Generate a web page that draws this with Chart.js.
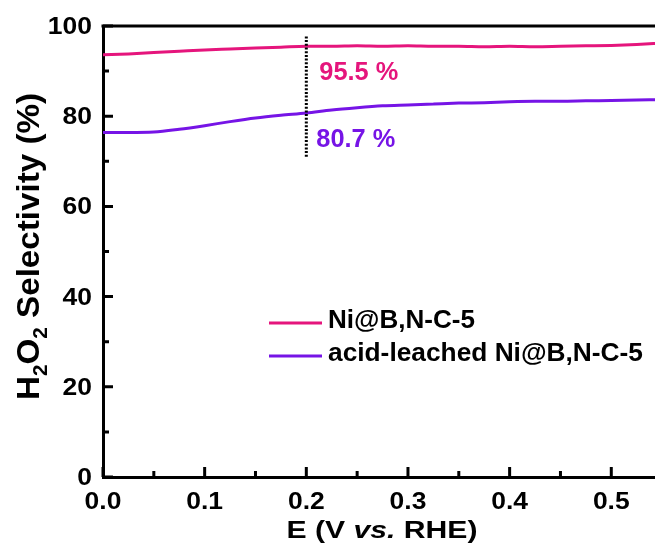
<!DOCTYPE html>
<html>
<head>
<meta charset="utf-8">
<script src="https://cdn.jsdelivr.net/npm/chart.js@4/dist/chart.umd.min.js"></script>
<style>
  html, body { margin: 0; padding: 0; background: #fff; }
  #wrap { width: 655px; height: 544px; }
</style>
</head>
<body>
<div id="wrap"><canvas id="selChart" width="655" height="544"></canvas></div>
<script>
// potential (V vs. RHE) and H2O2 selectivity (%)
const potential = [0, 0.025, 0.05, 0.075, 0.1, 0.125, 0.15, 0.175, 0.2, 0.225, 0.25, 0.275,
                   0.3, 0.325, 0.35, 0.375, 0.4, 0.425, 0.45, 0.475, 0.5, 0.525, 0.55];
const niBNC = [93.6, 93.8, 94.1, 94.4, 94.7, 94.9, 95.1, 95.3, 95.5, 95.5, 95.6, 95.5,
               95.6, 95.5, 95.5, 95.4, 95.5, 95.4, 95.5, 95.6, 95.7, 95.9, 96.2];
const acidLeached = [76.4, 76.4, 76.5, 77.1, 77.9, 78.8, 79.6, 80.2, 80.7, 81.4, 81.9, 82.3,
                     82.5, 82.7, 82.9, 83.0, 83.2, 83.3, 83.3, 83.4, 83.5, 83.6, 83.7];

const seriesNames = ['Ni@B,N-C-5', 'acid-leached Ni@B,N-C-5'];
const seriesColors = ['#e5157c', '#7614e6'];

const xTicks = [0, 0.1, 0.2, 0.3, 0.4, 0.5];
const xTickLabels = ['0.0', '0.1', '0.2', '0.3', '0.4', '0.5'];
const xMinorTicks = [0.05, 0.15, 0.25, 0.35, 0.45];
const yTicks = [0, 20, 40, 60, 80, 100];
const yTickLabels = ['0', '20', '40', '60', '80', '100'];
const yMinorTicks = [10, 30, 50, 70, 90];

// dotted guide at 0.2 V and the values read there
const markerE = 0.2;
const markerSpan = [71, 97.8];
const markerValues = [95.5, 80.7];

const FONT = "'Liberation Sans', Arial, sans-serif";

function pts(ys) {
  return potential.map((x, i) => ({ x: x, y: ys[i] }));
}

// draw a run of text pieces, optionally squeezed/stretched to a given width
function drawParts(ctx, parts, x, y, opt) {
  let natural = 0;
  parts.forEach(p => { ctx.font = p.font; p.w = ctx.measureText(p.t).width; natural += p.w; });
  const sx = opt.width ? opt.width / natural : (opt.sx || 1);
  ctx.save();
  ctx.translate(x, y);
  if (opt.rotate) ctx.rotate(opt.rotate);
  ctx.scale(sx, 1);
  let cx = 0;
  if (opt.align === 'center') cx = -natural / 2;
  else if (opt.align === 'right') cx = -natural;
  ctx.textAlign = 'left';
  ctx.textBaseline = opt.baseline || 'alphabetic';
  parts.forEach(p => {
    ctx.font = p.font;
    ctx.fillStyle = p.color || '#000';
    ctx.fillText(p.t, cx, p.dy || 0);
    cx += p.w;
  });
  ctx.restore();
}

const framePlugin = {
  id: 'frame',
  afterDraw(chart) {
    const ctx = chart.ctx;
    const xs = chart.scales.x, ys = chart.scales.y;
    const area = chart.chartArea;
    ctx.save();
    ctx.strokeStyle = '#000';
    ctx.lineWidth = 3;
    // top frame line
    ctx.beginPath();
    ctx.moveTo(area.left - 1.5, area.top);
    ctx.lineTo(area.right, area.top);
    ctx.stroke();

    // inward ticks
    ctx.beginPath();
    xTicks.forEach(v => { const px = xs.getPixelForValue(v); ctx.moveTo(px, area.bottom); ctx.lineTo(px, area.bottom - 10); });
    xMinorTicks.forEach(v => { const px = xs.getPixelForValue(v); ctx.moveTo(px, area.bottom); ctx.lineTo(px, area.bottom - 6); });
    yTicks.forEach(v => { const py = ys.getPixelForValue(v); ctx.moveTo(area.left, py); ctx.lineTo(area.left + 10, py); });
    yMinorTicks.forEach(v => { const py = ys.getPixelForValue(v); ctx.moveTo(area.left, py); ctx.lineTo(area.left + 6, py); });
    ctx.stroke();

    // tick labels
    const tickFont = 'bold 23px ' + FONT;
    xTicks.forEach((v, i) => {
      drawParts(ctx, [{ t: xTickLabels[i], font: tickFont }], xs.getPixelForValue(v), area.bottom + 32,
        { sx: 1.15, align: 'center' });
    });
    yTicks.forEach((v, i) => {
      drawParts(ctx, [{ t: yTickLabels[i], font: tickFont }], area.left - 11, ys.getPixelForValue(v) + 8,
        { sx: 1.15, align: 'right' });
    });

    // axis titles
    drawParts(ctx, [
      { t: 'E (V ', font: 'bold 24px ' + FONT },
      { t: 'vs.', font: 'italic bold 24px ' + FONT },
      { t: ' RHE)', font: 'bold 24px ' + FONT }
    ], 382, 538, { width: 191, align: 'center' });

    drawParts(ctx, [
      { t: 'H', font: 'bold 32px ' + FONT },
      { t: '2', font: 'bold 20px ' + FONT, dy: 8 },
      { t: 'O', font: 'bold 32px ' + FONT },
      { t: '2', font: 'bold 20px ' + FONT, dy: 8 },
      { t: ' Selectivity (%)', font: 'bold 32px ' + FONT }
    ], 39, 246.5, { width: 307, align: 'center', rotate: -Math.PI / 2 });

    // legend
    const legendY = [323, 356];
    const legendW = [147, 315];
    seriesNames.forEach((name, i) => {
      ctx.strokeStyle = seriesColors[i];
      ctx.lineWidth = 3;
      ctx.beginPath();
      ctx.moveTo(269, legendY[i]);
      ctx.lineTo(322, legendY[i]);
      ctx.stroke();
      drawParts(ctx, [{ t: name, font: 'bold 26px ' + FONT }], 328, legendY[i] + 5,
        { width: legendW[i], align: 'left' });
    });

    // value labels at the guide line
    const mx = xs.getPixelForValue(markerE);
    const offs = [13, 10];
    markerValues.forEach((v, i) => {
      drawParts(ctx, [{ t: v.toFixed(1) + ' %', font: 'bold 25px ' + FONT, color: seriesColors[i] }],
        mx + offs[i], ys.getPixelForValue(v) + 34, { width: 79, align: 'left' });
    });
    ctx.restore();
  }
};

const chart = new Chart(document.getElementById('selChart').getContext('2d'), {
  type: 'scatter',
  data: {
    datasets: [
      {
        label: 'guide',
        data: [{ x: markerE, y: markerSpan[0] }, { x: markerE, y: markerSpan[1] }],
        showLine: true,
        borderColor: '#000',
        borderWidth: 3,
        borderDash: [2, 1.7],
        pointRadius: 0,
        order: -1
      },
      {
        label: seriesNames[0],
        data: pts(niBNC),
        showLine: true,
        borderColor: seriesColors[0],
        borderWidth: 3,
        pointRadius: 0,
        cubicInterpolationMode: 'monotone'
      },
      {
        label: seriesNames[1],
        data: pts(acidLeached),
        showLine: true,
        borderColor: seriesColors[1],
        borderWidth: 3,
        pointRadius: 0,
        cubicInterpolationMode: 'monotone'
      }
    ]
  },
  options: {
    responsive: false,
    animation: false,
    devicePixelRatio: 1,
    layout: { padding: { top: 26, right: 0, left: 0, bottom: 0 } },
    plugins: { legend: { display: false }, tooltip: { enabled: false } },
    scales: {
      x: {
        type: 'linear',
        min: 0,
        max: 0.543,
        ticks: { display: false },
        grid: { display: true, drawOnChartArea: false, drawTicks: false },
        border: { display: true, color: '#000', width: 3 },
        afterFit(scale) { scale.height = 67; }
      },
      y: {
        min: 0,
        max: 100,
        ticks: { display: false },
        grid: { display: true, drawOnChartArea: false, drawTicks: false },
        border: { display: true, color: '#000', width: 3 },
        afterFit(scale) { scale.width = 103; }
      }
    }
  },
  plugins: [framePlugin]
});
</script>
</body>
</html>
